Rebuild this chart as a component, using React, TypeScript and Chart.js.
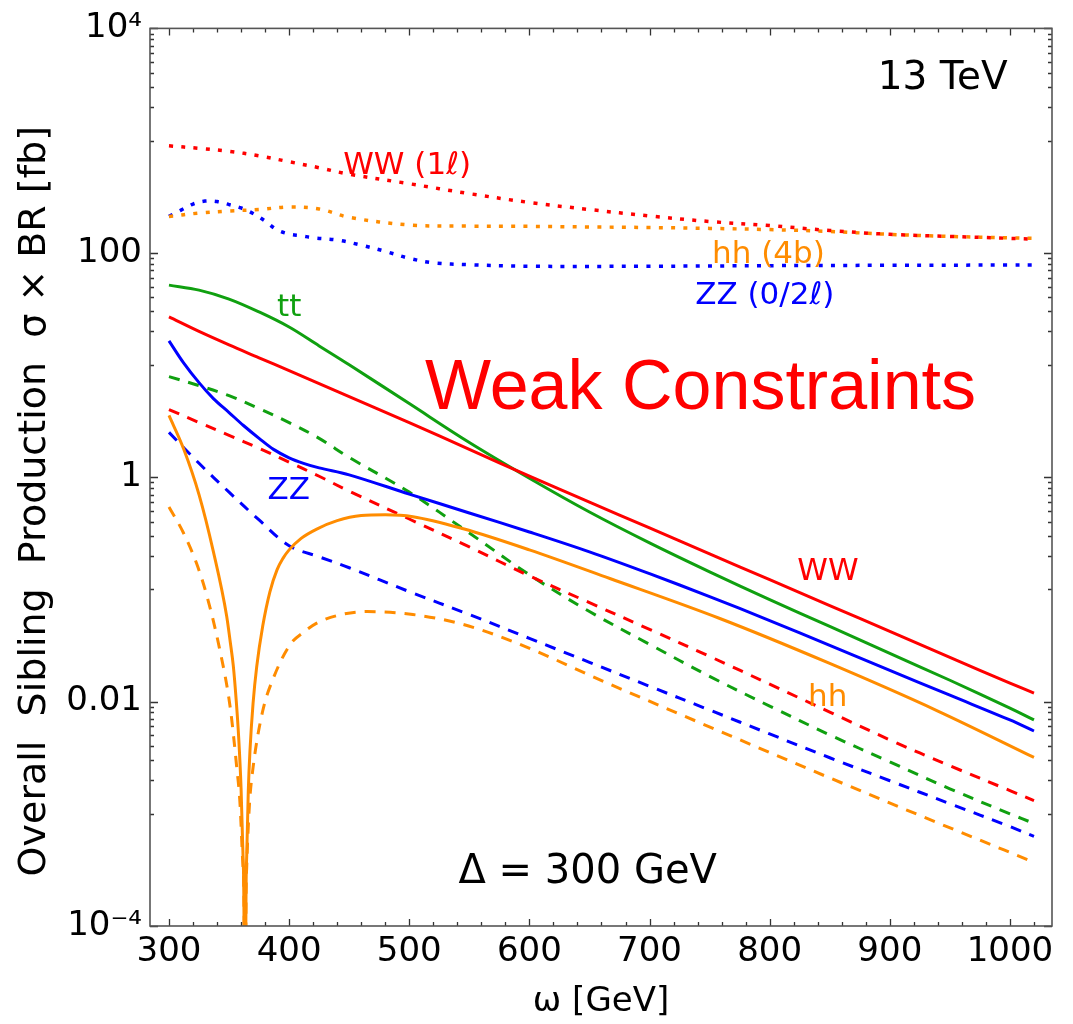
import React, { useEffect, useRef } from 'react';
import { Chart, registerables } from 'chart.js';

Chart.register(...registerables);

const FONT = '"DejaVu Sans", "Noto Sans", sans-serif';

// ---- data (omega in GeV, sigma x BR in fb) ----
const omegaGrid = [300, 325, 350, 375, 400, 425, 450, 500, 550, 600, 650, 700, 750, 800, 850, 900, 950, 1000, 1020];

const wwSolid = [26.8, 19.9, 15.1, 11.6, 8.9, 6.82, 5.23, 3.07, 1.77, 1.02, 0.6, 0.353, 0.207, 0.122, 0.0718, 0.0422, 0.0248, 0.0146, 0.0119];
const ttSolid = [51.5, 46.5, 38.7, 29.7, 21.8, 14.8, 10.05, 4.53, 2.04, 0.98, 0.49, 0.26, 0.1435, 0.0811, 0.0468, 0.0269, 0.0155, 0.00875, 0.00686];

const omegaZZ = [300, 312, 325, 337, 350, 362, 375, 387, 400, 412, 425, 450, 500, 550, 600, 650, 700, 750, 800, 850, 900, 950, 1000, 1020];
const zzSolid = [16.4, 10.5, 6.96, 5.02, 3.77, 2.89, 2.22, 1.77, 1.49, 1.33, 1.21, 1.05, 0.707, 0.48, 0.325, 0.216, 0.138, 0.0863, 0.0528, 0.0317, 0.019, 0.0114, 0.00686, 0.00547];

const wwDashed = [4.01, 3.07, 2.36, 1.81, 1.36, 1.02, 0.751, 0.424, 0.239, 0.132, 0.0762, 0.044, 0.0253, 0.0143, 0.00807, 0.00456, 0.00268, 0.00161, 0.00131];
const ttDashed = [7.87, 6.55, 5.33, 4.09, 3.07, 2.22, 1.5, 0.736, 0.318, 0.135, 0.0635, 0.0324, 0.0168, 0.00912, 0.00505, 0.0029, 0.00167, 0.001, 0.00082];
const zzDashed = [2.51, 1.33, 0.736, 0.416, 0.245, 0.195, 0.156, 0.0955, 0.0597, 0.0366, 0.0224, 0.0137, 0.00841, 0.00515, 0.00316, 0.00197, 0.00123, 0.00077, 0.000628];

const ww1lDotted = [898, 853, 803, 732, 648, 573, 502, 413, 337, 281, 243, 213, 190, 175, 158, 146, 140, 134.5, 132];
const hh4bDotted = [211, 226, 236, 243, 256, 246, 207, 177, 173, 172, 170, 168, 165, 161, 155, 146, 140, 136, 134.5];

const omegaZZ02l = [300, 310, 320, 330, 340, 350, 360, 370, 380, 390, 400, 410, 420, 440, 460, 480, 500, 520, 550, 600, 700, 800, 900, 1000, 1020];
const zz02lDotted = [211, 240, 272, 289, 286, 269, 251, 224, 192, 160, 147, 142, 136, 130, 117, 103, 89.3, 81.5, 78.3, 75.9, 75.9, 76.8, 77.4, 77.8, 78];

const omegaHH = [300, 312, 325, 337, 348, 351, 353.5, 356, 358, 360, 361.5, 362.6, 363.3, 364, 364.7, 366, 367.4, 370, 373, 378, 384, 390, 395, 400, 410, 423, 440, 460, 480, 503, 545, 600, 667, 758, 849, 940, 1020];
const hhSolid = [3.55, 1.81, 0.7, 0.216, 0.058, 0.034, 0.021, 0.0101, 0.00483, 0.00169, 0.00047, 0.00006, 1e-8, 0.000106, 0.00042, 0.00158, 0.00364, 0.0097, 0.0204, 0.0469, 0.095, 0.15, 0.19, 0.225, 0.285, 0.345, 0.41, 0.455, 0.462, 0.445, 0.347, 0.225, 0.125, 0.0553, 0.0221, 0.00824, 0.00318];

const omegaHHd = [300, 312, 323, 331, 342, 351, 356.4, 359, 361.6, 362.6, 363.3, 364, 364.7, 367, 370, 378, 387, 401, 412, 423, 440, 465, 503, 545, 586, 667, 758, 849, 940, 1020];
const hhDashed = [0.542, 0.32, 0.17, 0.092, 0.03, 0.00881, 0.00259, 0.00129, 0.000336, 0.0001, 1e-8, 0.0001, 0.000336, 0.00121, 0.00259, 0.00824, 0.0163, 0.0324, 0.0415, 0.05, 0.0585, 0.0635, 0.0597, 0.0487, 0.0344, 0.0143, 0.00547, 0.00211, 0.00083, 0.00037];

// ---- ticks ----
const xTickValues = [300, 400, 500, 600, 700, 800, 900, 1000];
const xMinorValues = [300, 320, 340, 360, 380, 400, 420, 440, 460, 480, 500, 520, 540, 560, 580, 600, 620, 640, 660, 680, 700, 720, 740, 760, 780, 800, 820, 840, 860, 880, 900, 920, 940, 960, 980, 1000, 1020];
const yTickValues = [1e-4, 1e-2, 1, 1e2, 1e4];
const yTickLabels = ['10\u207B\u2074', '0.01', '1', '100', '10\u2074'];
const yMinorFactors = [0.1, 0.2, 0.3, 0.4, 0.5, 0.6, 0.7, 0.8, 0.9];

// ---- colours ----
const RED = '#FF0000';
const BLUE = '#0000FF';
const GREEN = '#10A010';
const ORANGE = '#FF8C00';

// ---- annotations (data coordinates) ----
const annotations = [
  { text: '13 TeV', x: 890, y: 2877, color: '#000', size: 39, family: FONT },
  { text: 'WW (1\u2113)', x: 445, y: 507, color: RED, size: 31, family: FONT },
  { text: 'hh (4b)', x: 752, y: 80.7, color: ORANGE, size: 31, family: FONT },
  { text: 'ZZ (0/2\u2113)', x: 738, y: 34.9, color: BLUE, size: 31, family: FONT },
  { text: 'tt', x: 390, y: 27.3, color: GREEN, size: 31, family: FONT },
  { text: 'Weak Constraints', x: 513, y: 4.09, color: RED, size: 70, family: '"Liberation Sans", Arial, sans-serif' },
  { text: 'ZZ', x: 382, y: 0.638, color: BLUE, size: 31, family: FONT },
  { text: 'WW', x: 823, y: 0.122, color: RED, size: 31, family: FONT },
  { text: 'hh', x: 832, y: 0.00912, color: ORANGE, size: 31, family: FONT },
  { text: '\u0394 = 300 GeV', x: 541, y: 0.00024, color: '#000', size: 40, family: FONT },
];

const yTitle = 'Overall  Sibling  Production  \u03C3 \u00D7 BR [fb]';
const xTitle = '\u03C9 [GeV]';

function pts(xs: number[], ys: number[]) {
  return xs.map((x, i) => ({ x, y: ys[i] }));
}

const SOLID: number[] = [];
const DASH = [11, 9];
const DOT = [4, 8.3];

function ds(label: string, xs: number[], ys: number[], color: string, dash: number[], width: number, sharp = false) {
  return {
    label,
    data: pts(xs, ys),
    borderColor: color,
    backgroundColor: color,
    borderWidth: width,
    borderDash: dash,
    borderCapStyle: 'butt',
    borderJoinStyle: 'round',
    pointRadius: 0,
    fill: false,
    cubicInterpolationMode: sharp ? 'monotone' : 'default',
    tension: sharp ? 0 : 0.35,
    clip: 0,
  };
}

const framePlugin = {
  id: 'frameTicks',
  afterDatasetsDraw(chart: any) {
    const { ctx, chartArea: a, scales } = chart;
    const x = scales.x;
    const y = scales.y;
    ctx.save();
    for (const an of annotations) {
      ctx.font = `${an.size}px ${an.family}`;
      ctx.fillStyle = an.color;
      ctx.textAlign = 'left';
      ctx.textBaseline = 'alphabetic';
      ctx.fillText(an.text, x.getPixelForValue(an.x), y.getPixelForValue(an.y));
    }
    ctx.strokeStyle = '#333';
    ctx.lineWidth = 1.3;
    ctx.beginPath();
    for (const v of xMinorValues) {
      const px = Math.round(x.getPixelForValue(v)) + 0.5;
      const len = xTickValues.includes(v) ? 7 : 4;
      ctx.moveTo(px, a.bottom);
      ctx.lineTo(px, a.bottom - len);
      ctx.moveTo(px, a.top);
      ctx.lineTo(px, a.top + len);
    }
    for (const M of yTickValues) {
      const py = Math.round(y.getPixelForValue(M)) + 0.5;
      ctx.moveTo(a.left, py);
      ctx.lineTo(a.left + 8, py);
      ctx.moveTo(a.right, py);
      ctx.lineTo(a.right - 8, py);
      if (M <= 1e-4) continue;
      for (const f of yMinorFactors) {
        const pm = Math.round(y.getPixelForValue(M * f)) + 0.5;
        ctx.moveTo(a.left, pm);
        ctx.lineTo(a.left + 4, pm);
        ctx.moveTo(a.right, pm);
        ctx.lineTo(a.right - 4, pm);
      }
    }
    ctx.stroke();
    ctx.strokeStyle = '#555';
    ctx.lineWidth = 1.6;
    ctx.strokeRect(a.left, a.top, a.right - a.left, a.bottom - a.top);
    ctx.fillStyle = '#000';
    ctx.font = `38px ${FONT}`;
    ctx.textAlign = 'center';
    ctx.textBaseline = 'middle';
    ctx.translate(35, (a.top + a.bottom) / 2 + 24);
    ctx.rotate(-Math.PI / 2);
    ctx.fillText(yTitle, 0, 0);
    ctx.restore();
  },
};

export default function App() {
  const ref = useRef<HTMLCanvasElement>(null);
  useEffect(() => {
    if (!ref.current) return;
    const chart = new Chart(ref.current, {
      type: 'line',
      data: {
        datasets: [
          ds('WW (1ℓ)', omegaGrid, ww1lDotted, RED, DOT, 3.5),
          ds('hh (4b)', omegaGrid, hh4bDotted, ORANGE, DOT, 3.5),
          ds('ZZ (0/2ℓ)', omegaZZ02l, zz02lDotted, BLUE, DOT, 3.5),
          ds('WW', omegaGrid, wwSolid, RED, SOLID, 3),
          ds('tt', omegaGrid, ttSolid, GREEN, SOLID, 3),
          ds('ZZ', omegaZZ, zzSolid, BLUE, SOLID, 3),
          ds('hh', omegaHH, hhSolid, ORANGE, SOLID, 3, true),
          ds('WW dashed', omegaGrid, wwDashed, RED, DASH, 3),
          ds('tt dashed', omegaGrid, ttDashed, GREEN, DASH, 3),
          ds('ZZ dashed', omegaGrid, zzDashed, BLUE, DASH, 3),
          ds('hh dashed', omegaHHd, hhDashed, ORANGE, DASH, 3, true),
        ] as any,
      },
      options: {
        responsive: false,
        animation: false,
        devicePixelRatio: 1,
        layout: { padding: { left: 0, top: 24, right: 21, bottom: 0 } },
        plugins: { legend: { display: false }, tooltip: { enabled: false }, title: { display: false } },
        elements: { point: { radius: 0 } },
        scales: {
          x: {
            type: 'linear',
            min: 284.2,
            max: 1035,
            grid: { display: false, drawTicks: false },
            border: { display: false },
            afterBuildTicks: (s: any) => {
              s.ticks = xTickValues.map((v) => ({ value: v }));
            },
            afterFit: (s: any) => {
              s.height = 98;
            },
            ticks: {
              autoSkip: false,
              maxRotation: 0,
              padding: 6,
              color: '#000',
              font: { family: FONT, size: 34 },
              callback: (v: any) => String(v),
            },
            title: {
              display: true,
              text: xTitle,
              color: '#000',
              font: { family: FONT, size: 34 },
              padding: { top: 0, bottom: 1 },
            },
          },
          y: {
            type: 'logarithmic',
            min: 1e-4,
            max: 1e4,
            grid: { display: false, drawTicks: false },
            border: { display: false },
            afterBuildTicks: (s: any) => {
              s.ticks = yTickValues.map((v) => ({ value: v }));
            },
            afterFit: (s: any) => {
              s.width = 150;
            },
            ticks: {
              autoSkip: false,
              padding: 8,
              color: '#000',
              font: { family: FONT, size: 34 },
              callback: (v: any) => {
                const i = yTickValues.findIndex((t) => Math.abs(Math.log10(t) - Math.log10(Number(v))) < 1e-6);
                return i >= 0 ? yTickLabels[i] : '';
              },
            },
          },
        },
      } as any,
      plugins: [framePlugin],
    });
    return () => chart.destroy();
  }, []);
  return (
    <div style={{ position: 'absolute', left: 0, top: 0, width: 1073, height: 1024, background: '#fff' }}>
      <canvas ref={ref} width={1073} height={1024} style={{ display: 'block', width: 1073, height: 1024 }} />
    </div>
  );
}
